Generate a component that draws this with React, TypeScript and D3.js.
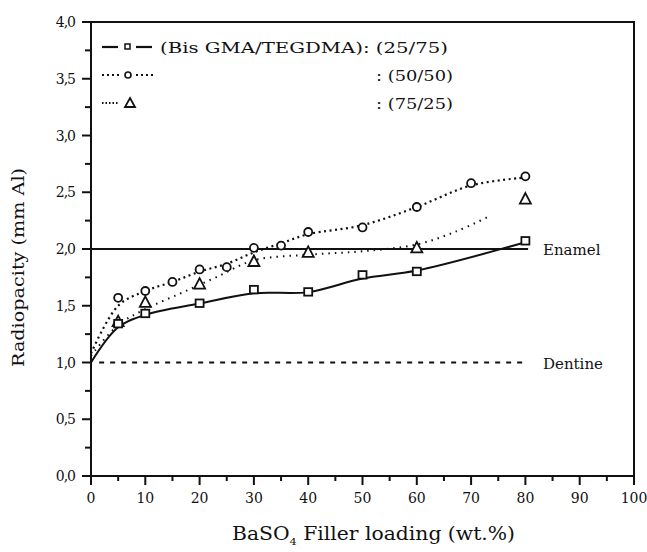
import React, { useEffect, useRef } from 'react'
import * as d3 from 'd3'

// marker values (x = BaSO4 wt.%, y = radiopacity mm Al)
const loadingA = [5, 10, 20, 30, 40, 50, 60, 80]
const valuesA = [1.34, 1.43, 1.52, 1.64, 1.62, 1.77, 1.80, 2.07]
const loadingB = [5, 10, 15, 20, 25, 30, 35, 40, 50, 60, 70, 80]
const valuesB = [1.57, 1.63, 1.71, 1.82, 1.84, 2.01, 2.03, 2.15, 2.19, 2.37, 2.58, 2.64]
const loadingC = [5, 10, 20, 30, 40, 60, 80]
const valuesC = [1.36, 1.53, 1.69, 1.89, 1.97, 2.01, 2.44]

// fitted curves drawn through / near the markers
const curveAx = [0, 5, 10, 20, 30, 40, 50, 60, 80]
const curveAy = [1.0, 1.31, 1.42, 1.52, 1.61, 1.62, 1.74, 1.81, 2.06]
const curveBx = [0, 5, 10, 15, 20, 25, 30, 35, 40, 50, 60, 70, 80]
const curveBy = [1.08, 1.5, 1.63, 1.71, 1.8, 1.87, 1.97, 2.05, 2.13, 2.21, 2.37, 2.56, 2.63]
const curveCx = [0, 5, 10, 17, 23, 30, 40, 50, 60, 67, 73]
const curveCy = [1.06, 1.33, 1.47, 1.62, 1.75, 1.9, 1.95, 1.98, 2.04, 2.15, 2.28]

const xTicks = [0, 10, 20, 30, 40, 50, 60, 70, 80, 90, 100]
const yTicks = [0, 0.5, 1, 1.5, 2, 2.5, 3, 3.5, 4]
const legendLabels = ['(Bis GMA/TEGDMA): (25/75)', ': (50/50)', ': (75/25)']
const refLines = [{ name: 'Enamel', value: 2.0 }, { name: 'Dentine', value: 1.0 }]

const W = 647
const H = 552
const FONT = "'DejaVu Serif', 'Liberation Serif', 'Times New Roman', serif"

export default function App() {
  const ref = useRef<SVGSVGElement>(null)

  useEffect(() => {
    const margin = { top: 22, right: 13, bottom: 76, left: 91 }
    const svg = d3.select(ref.current)
    svg.selectAll('*').remove()

    const x = d3.scaleLinear().domain([0, 100]).range([margin.left, W - margin.right])
    const y = d3.scaleLinear().domain([0, 4]).range([H - margin.bottom, margin.top])

    const g = svg.append('g').attr('fill', 'none').attr('stroke', '#111')

    // frame
    g.append('rect')
      .attr('x', x(0)).attr('y', y(4))
      .attr('width', x(100) - x(0)).attr('height', y(0) - y(4))
      .attr('stroke-width', 2)

    // x ticks (major + minor, outward)
    d3.range(0, 101, 5).forEach((v) => {
      g.append('line')
        .attr('x1', x(v)).attr('x2', x(v))
        .attr('y1', y(0)).attr('y2', y(0) + (v % 10 === 0 ? 9 : 5))
        .attr('stroke-width', 2)
    })
    // y ticks
    d3.range(0, 4.01, 0.25).forEach((v) => {
      const major = Math.abs(v * 2 - Math.round(v * 2)) < 1e-6
      g.append('line')
        .attr('x1', x(0)).attr('x2', x(0) - (major ? 9 : 6))
        .attr('y1', y(v)).attr('y2', y(v))
        .attr('stroke-width', 2)
    })
    g.append('line').attr('x1', x(0) - 9).attr('x2', x(0)).attr('y1', y(0)).attr('y2', y(0)).attr('stroke-width', 2)

    const txt = svg.append('g').style('font-family', FONT).attr('fill', '#111')

    txt.selectAll('.xt').data(xTicks).enter().append('text')
      .attr('x', (d) => x(d)).attr('y', y(0) + 27)
      .attr('text-anchor', 'middle').attr('font-size', 14)
      .text((d) => String(d))

    txt.selectAll('.yt').data(yTicks).enter().append('text')
      .attr('x', x(0) - 16).attr('y', (d) => y(d) + 5)
      .attr('text-anchor', 'end').attr('font-size', 14)
      .attr('letter-spacing', -1)
      .text((d) => d.toFixed(1).replace('.', ','))

    // axis titles
    txt.append('text')
      .attr('transform', `translate(24,${(168 + 367) / 2}) rotate(-90)`)
      .attr('text-anchor', 'middle').attr('font-size', 17)
      .attr('textLength', 199).attr('lengthAdjust', 'spacingAndGlyphs')
      .text('Radiopacity (mm Al)')

    const xl = txt.append('text')
      .attr('x', 232).attr('y', 540).attr('font-size', 18)
      .attr('textLength', 283).attr('lengthAdjust', 'spacingAndGlyphs')
    xl.append('tspan').text('BaSO')
    xl.append('tspan').attr('dy', 5).attr('font-size', 10).text('4')
    xl.append('tspan').attr('dy', -5).text(' Filler loading (wt.%)')

    // reference lines
    g.append('line')
      .attr('x1', x(0)).attr('x2', x(80.5))
      .attr('y1', y(refLines[0].value)).attr('y2', y(refLines[0].value))
      .attr('stroke-width', 2)
    g.append('line')
      .attr('x1', x(1.5)).attr('x2', x(80))
      .attr('y1', y(refLines[1].value)).attr('y2', y(refLines[1].value))
      .attr('stroke-width', 1.8).attr('stroke-dasharray', '5,6')
    refLines.forEach((r) => {
      txt.append('text')
        .attr('x', 543).attr('y', y(r.value) + 6)
        .attr('font-size', 15)
        .text(r.name)
    })

    const line = d3.line<[number, number]>()
      .x((d) => x(d[0])).y((d) => y(d[1]))
      .curve(d3.curveCatmullRom.alpha(0.5))

    const zip = (a: number[], b: number[]) => a.map((v, i) => [v, b[i]] as [number, number])

    g.append('path').attr('d', line(zip(curveAx, curveAy))).attr('stroke-width', 2)
    g.append('path').attr('d', line(zip(curveBx, curveBy)))
      .attr('stroke-width', 2.2).attr('stroke-dasharray', '2,3.5')
    g.append('path').attr('d', line(zip(curveCx, curveCy)))
      .attr('stroke-width', 2).attr('stroke-dasharray', '1.5,5')

    const square = (sel: any, cx: number, cy: number) =>
      sel.append('rect').attr('x', cx - 4).attr('y', cy - 4).attr('width', 8).attr('height', 7.5)
        .attr('fill', '#fff').attr('stroke-width', 1.8)
    const circle = (sel: any, cx: number, cy: number) =>
      sel.append('circle').attr('cx', cx).attr('cy', cy).attr('r', 4)
        .attr('fill', '#fff').attr('stroke-width', 1.8)
    const tri = (sel: any, cx: number, cy: number) =>
      sel.append('path')
        .attr('d', `M${cx},${cy - 6}L${cx + 5.5},${cy + 4.5}L${cx - 5.5},${cy + 4.5}Z`)
        .attr('fill', '#fff').attr('stroke-width', 1.8)

    loadingC.forEach((v, i) => tri(g, x(v), y(valuesC[i])))
    loadingB.forEach((v, i) => circle(g, x(v), y(valuesB[i])))
    loadingA.forEach((v, i) => square(g, x(v), y(valuesA[i])))

    // legend
    const lg = svg.append('g').attr('fill', 'none').attr('stroke', '#111')
    const rows = [47, 75, 103]
    lg.append('line').attr('x1', 102).attr('x2', 118).attr('y1', rows[0]).attr('y2', rows[0]).attr('stroke-width', 2.2)
    lg.append('line').attr('x1', 136).attr('x2', 152).attr('y1', rows[0]).attr('y2', rows[0]).attr('stroke-width', 2.2)
    lg.append('rect').attr('x', 125).attr('y', rows[0] - 3).attr('width', 5).attr('height', 5).attr('stroke-width', 1.5)
    lg.append('line').attr('x1', 102).attr('x2', 119).attr('y1', rows[1]).attr('y2', rows[1])
      .attr('stroke-width', 2.2).attr('stroke-dasharray', '2,3')
    lg.append('line').attr('x1', 136).attr('x2', 155).attr('y1', rows[1]).attr('y2', rows[1])
      .attr('stroke-width', 2.2).attr('stroke-dasharray', '2,3')
    lg.append('circle').attr('cx', 128).attr('cy', rows[1]).attr('r', 3).attr('stroke-width', 1.6)
    lg.append('line').attr('x1', 102).attr('x2', 118).attr('y1', rows[2]).attr('y2', rows[2])
      .attr('stroke-width', 2).attr('stroke-dasharray', '1.5,2')
    lg.append('path').attr('d', `M130,${rows[2] - 5}L135,${rows[2] + 4}L125,${rows[2] + 4}Z`).attr('stroke-width', 1.8)

    txt.append('text').attr('x', 160).attr('y', rows[0] + 6)
      .attr('font-size', 15)
      .attr('textLength', 288).attr('lengthAdjust', 'spacingAndGlyphs')
      .text(legendLabels[0])
    txt.append('text').attr('x', 376).attr('y', rows[1] + 6)
      .attr('font-size', 15)
      .attr('textLength', 77).attr('lengthAdjust', 'spacingAndGlyphs')
      .text(legendLabels[1])
    txt.append('text').attr('x', 376).attr('y', rows[2] + 6)
      .attr('font-size', 15)
      .attr('textLength', 77).attr('lengthAdjust', 'spacingAndGlyphs')
      .text(legendLabels[2])
  }, [])

  return (
    <div style={{ position: 'fixed', left: 0, top: 0, width: W, height: H, background: '#fff' }}>
      <svg ref={ref} width={W} height={H} />
    </div>
  )
}
